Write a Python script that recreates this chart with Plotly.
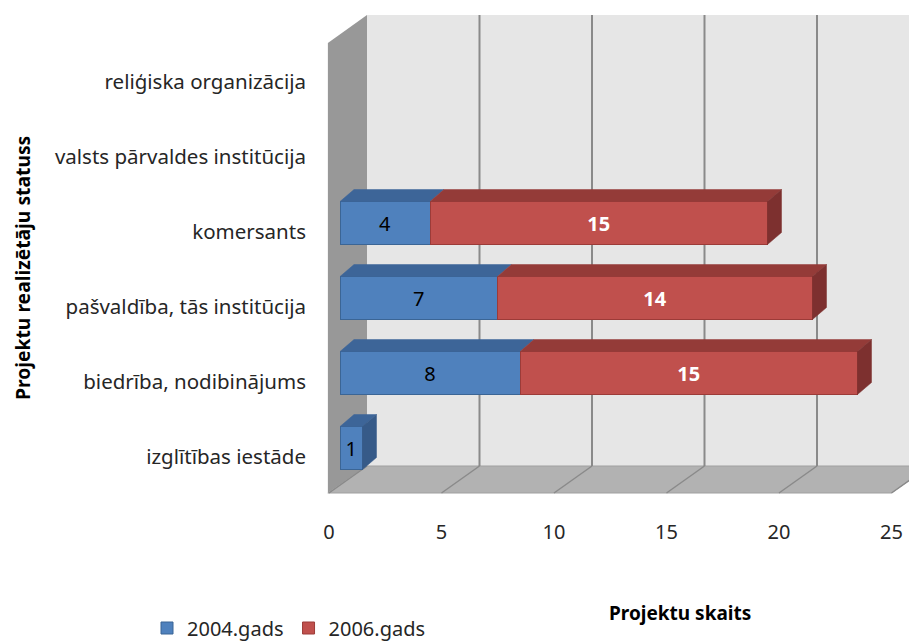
import plotly.graph_objects as go

categories = ["izglītības iestāde", "biedrība, nodibinājums", "pašvaldība, tās institūcija",
              "komersants", "valsts pārvaldes institūcija", "reliģiska organizācija"]
series_names = ["2004.gads", "2006.gads"]
values_2004 = [1, 8, 7, 4, 0, 0]
values_2006 = [0, 15, 14, 15, 0, 0]
x_ticks = [0, 5, 10, 15, 20, 25]

FONT = "Noto Sans"
front_colors = ["#4f81bd", "#c0504d"]
edge_colors = ["#3b6595", "#9c3b38"]
top_colors = ["#3d6598", "#943b38"]
side_colors = ["#365a88", "#7d302f"]
text_colors = ["#000000", "#ffffff"]

# page body margin compensation: figure is drawn at (8, 8) on the page
OFF = 8
PAGE_W, PAGE_H = 917, 642
W, H = PAGE_W - OFF, PAGE_H - OFF

def fx(px):  # page px -> figure px
    return px - OFF

L, T = fx(326), fx(10)
plot_right = fx(917)
plot_bottom = fx(500)
R, B = W - plot_right, H - plot_bottom
PX_X = 22.5      # px per unit on value axis
PX_Y = 75.0      # px per category
X0_PX = 340      # page pixel of value 0 on bar plane
Y0_PX = 448      # page pixel of first category centre

def X(px):
    return (px - X0_PX) / PX_X

def Y(py):
    return (Y0_PX - py) / PX_Y

x_range = [X(326), X(917)]
y_range = [Y(500), Y(10)]
plot_w = plot_right - L
plot_h = plot_bottom - T

def paper_x(px):
    return (fx(px) - L) / plot_w

def paper_y(py):
    return (plot_bottom - fx(py)) / plot_h

bar_w = 43 / PX_Y
dx, dy = 14 / PX_X, 12 / PX_Y          # bar depth
front_off = X(329)                      # floor front edge offset of value 0
back_off = X(367)                       # back wall offset of value 0
floor_front_y, floor_back_y = Y(493), Y(466)
wall_top_front, wall_top_back = Y(43), Y(15)

fig = go.Figure()
series = [values_2004, values_2006]
for k, vals in enumerate(series):
    fig.add_trace(go.Bar(
        y=categories, x=[v if v else None for v in vals], orientation="h",
        name=series_names[k], width=bar_w,
        marker=dict(color=front_colors[k], line=dict(color=edge_colors[k], width=1)),
        text=[str(v) if v else "" for v in vals], textposition="inside",
        insidetextanchor="middle", textangle=0, constraintext="none",
        textfont=dict(family=FONT, size=20, color=text_colors[k],
                      weight="bold" if k == 1 else "normal"),
        hoverinfo="skip",
    ))

# dummy trace for label axes
fig.add_trace(go.Scatter(x=[0] * len(categories), y=categories, xaxis="x2", yaxis="y2",
                         mode="markers", marker=dict(opacity=0), showlegend=False,
                         hoverinfo="skip"))

shapes = []
# side wall
shapes.append(dict(type="path", layer="below", xref="x", yref="y",
                   path=f"M {front_off - 0.05},{floor_front_y} L {front_off - 0.05},{wall_top_front} "
                        f"L {back_off},{wall_top_back} L {back_off},{floor_back_y} Z",
                   fillcolor="#989898", line=dict(width=0)))
# back wall
shapes.append(dict(type="rect", layer="below", xref="x", yref="y",
                   x0=back_off, x1=x_ticks[-1] + back_off, y0=floor_back_y, y1=wall_top_back,
                   fillcolor="#e6e6e6", line=dict(width=0)))
# floor
shapes.append(dict(type="path", layer="below", xref="x", yref="y",
                   path=f"M {front_off - 0.05},{floor_front_y} L {x_ticks[-1] + front_off},{floor_front_y} "
                        f"L {x_ticks[-1] + back_off},{floor_back_y} L {back_off},{floor_back_y} Z",
                   fillcolor="#b2b2b2", line=dict(color="#a0a0a0", width=1)))
# gridlines
for v in x_ticks:
    if v > 0:
        shapes.append(dict(type="line", layer="below", xref="x", yref="y",
                           x0=v + back_off, x1=v + back_off, y0=floor_back_y, y1=wall_top_back,
                           line=dict(color="#8a8a8a", width=2)))
    shapes.append(dict(type="line", layer="below", xref="x", yref="y",
                       x0=v + front_off, x1=v + back_off, y0=floor_front_y, y1=floor_back_y,
                       line=dict(color="#8a8a8a", width=1.5)))

# 3D faces of bars
for i in range(len(categories)):
    start = 0
    last = None
    yt = i + bar_w / 2
    yb = i - bar_w / 2
    for k, vals in enumerate(series):
        v = vals[i]
        if v:
            x0, x1 = start, start + v
            shapes.append(dict(type="path", layer="above", xref="x", yref="y",
                               path=f"M {x0},{yt} L {x1},{yt} L {x1 + dx},{yt + dy} L {x0 + dx},{yt + dy} Z",
                               fillcolor=top_colors[k], line=dict(color=top_colors[k], width=0.5)))
            start = x1
            last = k
    if last is not None:
        xe = start
        shapes.append(dict(type="path", layer="above", xref="x", yref="y",
                           path=f"M {xe},{yb} L {xe},{yt} L {xe + dx},{yt + dy} L {xe + dx},{yb + dy} Z",
                           fillcolor=side_colors[last], line=dict(color=side_colors[last], width=0.5)))

fig.update_layout(
    width=W, height=H, barmode="stack",
    margin=dict(l=L, r=R, t=T, b=B, autoexpand=False),
    paper_bgcolor="white", plot_bgcolor="rgba(0,0,0,0)",
    font=dict(family=FONT, size=20, color="#262626"),
    shapes=shapes,
    xaxis=dict(range=x_range, showgrid=False, zeroline=False, showticklabels=False,
               showline=False, ticks=""),
    yaxis=dict(range=y_range, type="category", categoryorder="array", categoryarray=categories,
               showgrid=False, zeroline=False, showticklabels=False, showline=False, ticks=""),
    xaxis2=dict(overlaying="x", anchor="y", side="bottom",
                range=[x_range[0] - front_off, x_range[1] - front_off],
                tickvals=x_ticks, showgrid=False, zeroline=False, showline=False, ticks="",
                ticklabelstandoff=18, tickfont=dict(family=FONT, size=20, color="#262626")),
    yaxis2=dict(overlaying="y", anchor="x", side="left", type="category",
                categoryorder="array", categoryarray=categories,
                range=[y_range[0] + 9 / PX_Y, y_range[1] + 9 / PX_Y],
                showgrid=False, zeroline=False, showline=False, ticks="",
                ticklabelstandoff=19, tickfont=dict(family=FONT, size=20.5, color="#262626")),
    legend=dict(orientation="h", x=paper_x(147), xanchor="left",
                y=paper_y(628), yanchor="middle",
                font=dict(family=FONT, size=20, color="#262626"), traceorder="normal",
                bgcolor="rgba(0,0,0,0)"),
    annotations=[
        dict(text="<b>Projektu skaits</b>", xref="paper", yref="paper",
             x=paper_x(680), y=paper_y(613),
             xanchor="center", yanchor="middle", showarrow=False,
             font=dict(family=FONT, size=19, color="#000000")),
        dict(text="<b>Projektu realizētāju statuss</b>", xref="paper", yref="paper",
             x=paper_x(22), y=paper_y(268),
             xanchor="center", yanchor="middle", textangle=-90, showarrow=False,
             font=dict(family=FONT, size=19.3, color="#000000")),
    ],
)

fig.write_html("out.html")
